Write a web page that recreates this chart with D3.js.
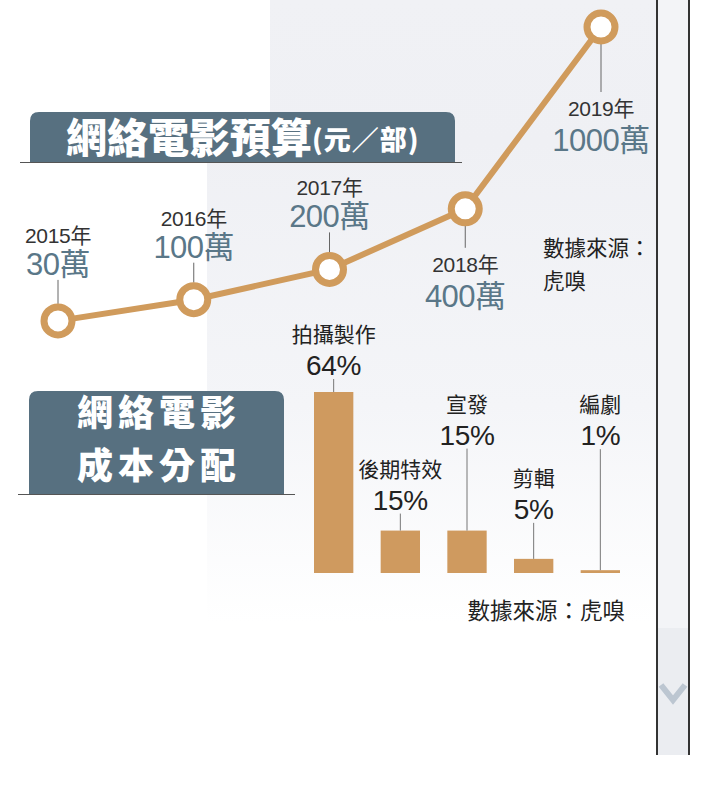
<!DOCTYPE html>
<html><head><meta charset="utf-8">
<script src="https://cdn.jsdelivr.net/npm/d3@7"></script>
<style>
html,body{margin:0;padding:0;background:#fff;}
svg{display:block;}
</style></head>
<body>
<script>
// ---- data ----
const years = ["2015年","2016年","2017年","2018年","2019年"];
const budgets = [30, 100, 200, 400, 1000];
const budgetLabels = ["30萬","100萬","200萬","400萬","1000萬"];
const costCategories = ["拍攝製作","後期特效","宣發","剪輯","編劇"];
const costShares = [64, 15, 15, 5, 1];
const costLabels = ["64%","15%","15%","5%","1%"];

// ---- layout (not data) ----
const W = 706, H = 800;
const lineSide = [-1, -1, -1, 1, 1];       // label above (-1) or below (1)
const lineLeader = [24, 20, 20, 22, 48];   // leader length px
const barLeader = [13, 17, 82, 36, 121];

const svg = d3.select("body").append("svg").attr("width", W).attr("height", H);
const defs = svg.append("defs");
const g1 = defs.append("linearGradient").attr("id","bg").attr("x1",0).attr("y1",0).attr("x2",0).attr("y2",1);
g1.append("stop").attr("offset","0%").attr("stop-color","#eff0f4");
g1.append("stop").attr("offset","55%").attr("stop-color","#f4f5f8");
g1.append("stop").attr("offset","100%").attr("stop-color","#ffffff");
const g2 = defs.append("linearGradient").attr("id","bgTop").attr("x1",0).attr("y1",0).attr("x2",0).attr("y2",1);
g2.append("stop").attr("offset","0%").attr("stop-color","#f0f1f5");
g2.append("stop").attr("offset","100%").attr("stop-color","#eff0f4");

// background panels
svg.append("rect").attr("x",270).attr("y",0).attr("width",387).attr("height",142).attr("fill","url(#bgTop)");
svg.append("rect").attr("x",207).attr("y",142).attr("width",450).attr("height",480).attr("fill","url(#bg)");

// right scroll strip
svg.append("rect").attr("x",657).attr("y",0).attr("width",32).attr("height",628).attr("fill","#f3f4f7");
svg.append("rect").attr("x",657).attr("y",628).attr("width",32).attr("height",127).attr("fill","#ebedf1");
svg.append("path").attr("d","M661,685 L673,700 L685,685").attr("fill","none").attr("stroke","#bcc6d1").attr("stroke-width",6);
svg.append("line").attr("x1",657).attr("x2",657).attr("y1",0).attr("y2",755).attr("stroke","#333").attr("stroke-width",2);
svg.append("line").attr("x1",689).attr("x2",689).attr("y1",0).attr("y2",755).attr("stroke","#333").attr("stroke-width",2);

const latin = "'Liberation Sans', Arial, 'Noto Sans CJK TC', sans-serif";
const cjk = "'Noto Sans CJK TC', 'Noto Sans CJK SC', sans-serif";
const lineColor = "#d09b5c";
const slate = "#577080";
const valueColor = "#5a7788";

function roundTopRect(x, y, w, h, r){
  return `M${x},${y+h} L${x},${y+r} Q${x},${y} ${x+r},${y} L${x+w-r},${y} Q${x+w},${y} ${x+w},${y+r} L${x+w},${y+h} Z`;
}
// Title 1
svg.append("path").attr("d", roundTopRect(30,112,425,50,9)).attr("fill",slate);
svg.append("line").attr("x1",20).attr("x2",462).attr("y1",162.5).attr("y2",162.5).attr("stroke","#555").attr("stroke-width",1);
const t1 = svg.append("text").attr("x",66).attr("y",153).attr("fill","#fff").attr("font-family",cjk).attr("font-weight",900);
t1.append("tspan").attr("font-size",41).text("網絡電影預算");
t1.append("tspan").attr("font-size",27).attr("dy",-3).attr("letter-spacing",1).text("(元／部)");

// Title 2
svg.append("path").attr("d", roundTopRect(29,391,255,103,9)).attr("fill",slate);
svg.append("line").attr("x1",18).attr("x2",295).attr("y1",494.5).attr("y2",494.5).attr("stroke","#555").attr("stroke-width",1);
svg.append("text").attr("x",159).attr("y",426).attr("text-anchor","middle").attr("fill","#fff")
  .attr("font-family",cjk).attr("font-weight",900).attr("font-size",36).attr("letter-spacing",5).text("網絡電影");
svg.append("text").attr("x",159).attr("y",479).attr("text-anchor","middle").attr("fill","#fff")
  .attr("font-family",cjk).attr("font-weight",900).attr("font-size",36).attr("letter-spacing",5).text("成本分配");

// ---- line chart ----
const x = d3.scalePoint().domain(years).range([58, 601]);
const y = d3.scaleLinear().domain([0, 1000]).range([330, 27]);
const pts = years.map((yr,i)=>({yr, v:budgets[i], lab:budgetLabels[i], side:lineSide[i], lead:lineLeader[i]}));
const R = 14;

pts.forEach(p=>{
  const cx = x(p.yr), cy = y(p.v);
  const y0 = cy + p.side*(R+3);
  const y1 = y0 + p.side*p.lead;
  svg.append("line").attr("x1",cx).attr("x2",cx).attr("y1",y0).attr("y2",y1).attr("stroke","#666").attr("stroke-width",1);
  let yearY, valY;
  if (p.side < 0){ valY = y1 - 5; yearY = valY - 32; }
  else { yearY = y1 + 24; valY = yearY + 35; }
  svg.append("text").attr("x",cx).attr("y",yearY).attr("text-anchor","middle").attr("fill","#333")
    .attr("font-family",latin).attr("font-size",21).attr("letter-spacing",-0.3).text(p.yr);
  svg.append("text").attr("x",cx).attr("y",valY).attr("text-anchor","middle").attr("fill",valueColor)
    .attr("font-family",latin).attr("font-size",31).attr("letter-spacing",-0.5).text(p.lab);
});

svg.append("path").datum(pts)
  .attr("d", d3.line().x(d=>x(d.yr)).y(d=>y(d.v)))
  .attr("fill","none").attr("stroke",lineColor).attr("stroke-width",6);
svg.selectAll("circle.pt").data(pts).join("circle").attr("class","pt")
  .attr("cx",d=>x(d.yr)).attr("cy",d=>y(d.v)).attr("r",R)
  .attr("fill","#fff").attr("stroke",lineColor).attr("stroke-width",7);

// source 1
svg.append("text").attr("x",543).attr("y",256).attr("fill","#222").attr("font-family",cjk).attr("font-size",21.5).text("數據來源：");
svg.append("text").attr("x",543).attr("y",289).attr("fill","#222").attr("font-family",cjk).attr("font-size",21.5).text("虎嗅");

// ---- bar chart ----
const xb = d3.scaleBand().domain(costCategories).range([314, 620]).paddingInner(0.41).paddingOuter(0);
const yb = d3.scaleLinear().domain([0, 64]).range([573, 392]);
const bars = costCategories.map((c,i)=>({c, v:costShares[i], lab:costLabels[i], lead:barLeader[i]}));

svg.selectAll("rect.bar").data(bars).join("rect").attr("class","bar")
  .attr("x",d=>xb(d.c)).attr("width",xb.bandwidth())
  .attr("y",d=>yb(d.v)).attr("height",d=>yb(0)-yb(d.v)).attr("fill","#cf9a5f");

bars.forEach(d=>{
  const cx = xb(d.c) + xb.bandwidth()/2;
  const top = yb(d.v);
  const y1 = top - d.lead;
  svg.append("line").attr("x1",cx).attr("x2",cx).attr("y1",top).attr("y2",y1).attr("stroke","#777").attr("stroke-width",1);
  svg.append("text").attr("x",cx).attr("y",y1-4).attr("text-anchor","middle").attr("fill","#222")
    .attr("font-family",latin).attr("font-size",28).attr("letter-spacing",-0.3).text(d.lab);
  svg.append("text").attr("x",cx).attr("y",y1-37).attr("text-anchor","middle").attr("fill","#222")
    .attr("font-family",cjk).attr("font-size",21).text(d.c);
});

svg.append("text").attr("x",625).attr("y",619).attr("text-anchor","end").attr("fill","#222")
  .attr("font-family",cjk).attr("font-size",22.5).text("數據來源：虎嗅");
</script>
</body></html>
